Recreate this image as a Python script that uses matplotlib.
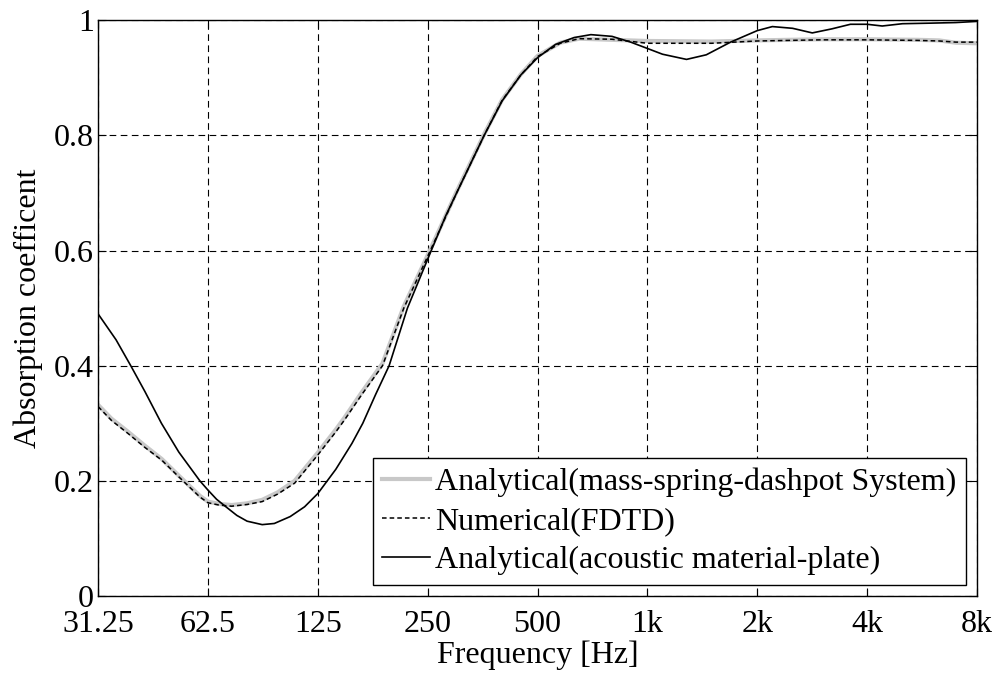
import matplotlib
matplotlib.use("Agg")
import matplotlib.pyplot as plt

plt.rcParams['font.family'] = ['Liberation Serif', 'DejaVu Serif']

# absorption coefficient
freq_plate = [31.25, 35, 38.4, 42, 46.6, 52, 59.4, 62.5, 66, 70, 75, 80, 88, 95, 105, 115, 125,
              140, 155, 166, 180, 196, 220, 250, 280, 300, 357, 400, 450, 500, 560, 630, 700,
              800, 900, 1000, 1100, 1280, 1450, 1690, 2000, 2200, 2500, 2830, 3200, 3600, 4000,
              4400, 5000, 6000, 7000, 8000]
alpha_plate = [0.490, 0.445, 0.400, 0.355, 0.300, 0.250, 0.200, 0.184, 0.168, 0.155, 0.140, 0.130,
               0.124, 0.126, 0.138, 0.155, 0.178, 0.220, 0.265, 0.300, 0.350, 0.400, 0.500, 0.585,
               0.660, 0.700, 0.800, 0.860, 0.905, 0.935, 0.958, 0.970, 0.975, 0.972, 0.962, 0.951,
               0.941, 0.932, 0.940, 0.962, 0.982, 0.989, 0.986, 0.978, 0.985, 0.993, 0.993, 0.990,
               0.994, 0.995, 0.996, 0.998]

freq_fdtd = [31.25, 34, 37.8, 42, 46.7, 52, 59.4, 62.5, 67, 72.6, 80, 88, 97, 108, 125, 140, 148,
             165, 188, 215, 250, 300, 357, 400, 450, 500, 577, 650, 800, 1000, 1500, 2000, 3000,
             4000, 5500, 6300, 7000, 8000]
alpha_fdtd = [0.329, 0.305, 0.282, 0.258, 0.236, 0.207, 0.172, 0.162, 0.158, 0.156, 0.159, 0.164,
              0.177, 0.196, 0.245, 0.285, 0.306, 0.350, 0.400, 0.500, 0.590, 0.700, 0.800, 0.861,
              0.905, 0.937, 0.960, 0.968, 0.967, 0.960, 0.960, 0.964, 0.966, 0.966, 0.965, 0.964,
              0.962, 0.962]

freq_msd = [31.25, 34, 37.8, 42, 46.7, 52, 59.4, 62.5, 67, 72.6, 80, 88, 97, 108, 125, 140, 148,
            165, 188, 215, 250, 300, 357, 400, 450, 500, 577, 650, 800, 1000, 1500, 2000, 3000,
            4000, 5500, 6300, 7000, 8000]
alpha_msd = [0.332, 0.308, 0.285, 0.261, 0.238, 0.209, 0.174, 0.164, 0.160, 0.158, 0.161, 0.167,
             0.180, 0.200, 0.249, 0.289, 0.310, 0.354, 0.404, 0.503, 0.592, 0.702, 0.802, 0.862,
             0.906, 0.938, 0.961, 0.968, 0.966, 0.964, 0.963, 0.965, 0.967, 0.967, 0.966, 0.965,
             0.961, 0.960]

xticks = [31.25, 62.5, 125, 250, 500, 1000, 2000, 4000, 8000]
xlabels = ['31.25', '62.5', '125', '250', '500', '1k', '2k', '4k', '8k']
yticks = [0, 0.2, 0.4, 0.6, 0.8, 1]
ylabels = ['0', '0.2', '0.4', '0.6', '0.8', '1']

fs = 23

fig = plt.figure(figsize=(10.01, 6.75), dpi=100)
ax = fig.add_axes([0.098, 0.117, 0.878, 0.853])

ax.plot(freq_msd, alpha_msd, color='#c8c8c8', lw=3.0,
        label='Analytical(mass-spring-dashpot System)')
ax.plot(freq_fdtd, alpha_fdtd, color='black', lw=1.1, linestyle=(0, (3, 2)),
        label='Numerical(FDTD)')
ax.plot(freq_plate, alpha_plate, color='black', lw=1.2,
        label='Analytical(acoustic material-plate)')

ax.set_xscale('log')
ax.set_xlim(31.25, 8000)
ax.set_ylim(0, 1)
ax.set_xticks(xticks)
ax.set_xticklabels(xlabels)
ax.minorticks_off()
ax.set_yticks(yticks)
ax.set_yticklabels(ylabels)
ax.tick_params(direction='in', top=True, right=True, labelsize=fs, length=6, width=0.8)
ax.tick_params(axis='x', pad=10)
ax.tick_params(axis='y', pad=3)

ax.grid(True, color='black', lw=0.8, linestyle=(0, (6, 4)))
for s in ax.spines.values():
    s.set_linewidth(1.0)

ax.set_xlabel('Frequency [Hz]', fontsize=fs, labelpad=1)
ax.set_ylabel('Absorption coefficent', fontsize=fs, labelpad=8)

leg = ax.legend(loc='lower right', fontsize=fs, frameon=True, fancybox=False,
                edgecolor='black', framealpha=1, handlelength=1.5, handletextpad=0.15,
                borderpad=0.3, labelspacing=0.3, borderaxespad=0.35)
leg.get_frame().set_linewidth(1.0)

fig.savefig('out.png', dpi=100)
